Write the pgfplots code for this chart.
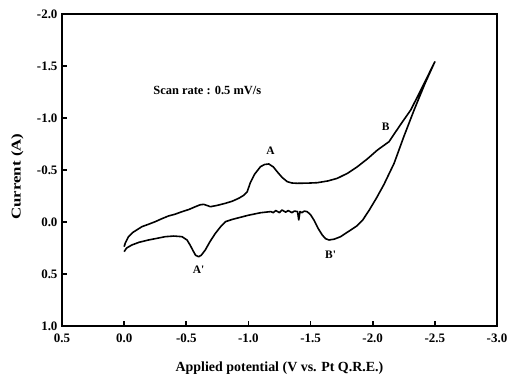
\documentclass[border=0pt]{standalone}
\usepackage{fontspec}
\setmainfont{Liberation Serif}
\newfontfamily\ylabfont{Liberation Serif}[FakeStretch=1.25]
\usepackage{pgfplots}
\pgfplotsset{compat=1.18}
\begin{document}
\begin{tikzpicture}
\path[use as bounding box] (0,0) rectangle (507bp,377bp);
\begin{axis}[
  at={(62bp,51bp)}, anchor=south west,
  scale only axis, width=435bp, height=312bp,
  x dir=reverse, y dir=reverse,
  xmin=-3, xmax=0.5, ymin=-2, ymax=1,
  xtick={-3,-2.5,-2,-1.5,-1,-0.5,0,0.5},
  xticklabels={-3.0,-2.5,-2.0,-1.5,-1.0,-0.5,0.0,0.5},
  ytick={-2,-1.5,-1,-0.5,0,0.5,1},
  yticklabels={-2.0,-1.5,-1.0,-0.5,0.0,0.5,1.0},
  tick align=inside, xtick pos=left, ytick pos=left,
  major tick length=5bp,
  axis line style={line width=1.6bp},
  every tick/.style={line width=1.6bp, black},
  tick label style={font=\fontsize{13}{15}\selectfont\bfseries},
  xticklabel style={yshift=-4bp},
  yticklabel style={xshift=-1bp},
  xlabel={Applied potential (V vs. Pt Q.R.E.)},
  ylabel={Current (A)},
  xlabel style={font=\fontsize{14}{16}\selectfont\bfseries, at={(axis description cs:0.5,0)}, anchor=base, yshift=-45.3bp},
  ylabel style={font=\ylabfont\bfseries\fontsize{13.5}{16}\selectfont, at={(axis description cs:-0.1023,0.479)}, anchor=center},
  clip=false,
]
\addplot[black, line width=1.6bp, line join=round] coordinates {
(0.00,0.237) (-0.01,0.20) (-0.035,0.141) (-0.07,0.10) (-0.143,0.045) (-0.20,0.02)
(-0.25,-0.003) (-0.30,-0.03) (-0.357,-0.058) (-0.41,-0.075) (-0.465,-0.099) (-0.52,-0.12)
(-0.573,-0.147) (-0.61,-0.165) (-0.64,-0.170) (-0.67,-0.158) (-0.694,-0.147) (-0.75,-0.160)
(-0.815,-0.180) (-0.87,-0.200) (-0.922,-0.228) (-0.96,-0.255) (-0.99,-0.291) (-1.016,-0.38)
(-1.05,-0.46) (-1.097,-0.532) (-1.13,-0.553) (-1.164,-0.558) (-1.20,-0.530) (-1.231,-0.484)
(-1.27,-0.43) (-1.312,-0.388) (-1.35,-0.375) (-1.393,-0.372) (-1.48,-0.374) (-1.554,-0.378)
(-1.64,-0.395) (-1.715,-0.420) (-1.80,-0.47) (-1.877,-0.532) (-1.96,-0.61) (-2.038,-0.692)
(-2.131,-0.772) (-2.22,-0.93) (-2.306,-1.077) (-2.40,-1.30) (-2.50,-1.541)
(-2.42,-1.33) (-2.333,-1.077) (-2.25,-0.82) (-2.172,-0.564) (-2.09,-0.36) (-2.03,-0.23)
(-1.97,-0.11) (-1.92,-0.02) (-1.87,0.04) (-1.80,0.095) (-1.742,0.141) (-1.69,0.165)
(-1.648,0.173) (-1.62,0.16) (-1.594,0.125) (-1.56,0.06) (-1.527,-0.019) (-1.50,-0.07)
(-1.473,-0.099) (-1.45,-0.105) (-1.43,-0.09) (-1.415,-0.10) (-1.405,-0.02) (-1.395,-0.10)
(-1.37,-0.105) (-1.35,-0.09) (-1.32,-0.11) (-1.30,-0.095) (-1.27,-0.115) (-1.25,-0.09)
(-1.22,-0.11) (-1.20,-0.09) (-1.18,-0.10) (-1.097,-0.089) (-1.0,-0.065) (-0.935,-0.045)
(-0.87,-0.025) (-0.815,-0.003) (-0.78,0.04) (-0.734,0.109) (-0.69,0.19) (-0.653,0.269)
(-0.62,0.32) (-0.599,0.334) (-0.575,0.32) (-0.559,0.286) (-0.53,0.22) (-0.506,0.173)
(-0.465,0.141) (-0.40,0.135) (-0.331,0.141) (-0.26,0.158) (-0.196,0.173) (-0.12,0.195)
(-0.062,0.221) (-0.02,0.25) (0.00,0.285)
};
\node[font=\fontsize{12.5}{14}\selectfont\bfseries] at (axis cs:-0.669,-1.269) {Scan rate : 0.5 mV/s};
\node[font=\fontsize{11.5}{13}\selectfont\bfseries] at (axis cs:-1.177,-0.686) {A};
\node[font=\fontsize{11.5}{13}\selectfont\bfseries] at (axis cs:-2.105,-0.913) {B};
\node[font=\fontsize{11.5}{13}\selectfont\bfseries] at (axis cs:-0.599,0.462) {A\textquotesingle};
\node[font=\fontsize{11.5}{13}\selectfont\bfseries] at (axis cs:-1.661,0.317) {B\textquotesingle};
\end{axis}
\end{tikzpicture}
\end{document}
